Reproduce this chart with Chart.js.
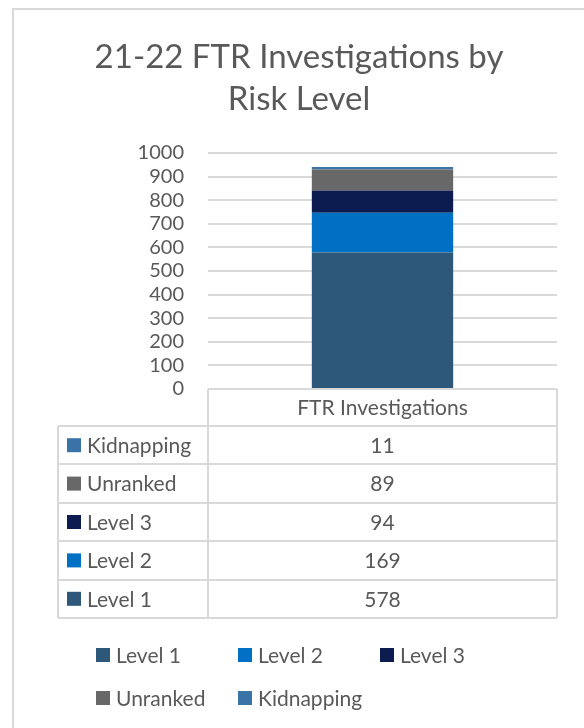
<!DOCTYPE html>
<html>
<head>
<meta charset="utf-8">
<script src="https://cdn.jsdelivr.net/npm/chart.js@4"></script>
<style>
  html, body { margin: 0; padding: 0; background: #fff; }
  #wrap { width: 584px; height: 728px; position: relative; }
</style>
</head>
<body>
<div id="wrap"><canvas id="myChart"></canvas></div>
<script>
// chart data
const titleLines = ["21-22 FTR Investigations by", "Risk Level"];
const categories = ["FTR Investigations"];
const seriesNames = ["Level 1", "Level 2", "Level 3", "Unranked", "Kidnapping"];
const level1 = [578];
const level2 = [169];
const level3 = [94];
const unranked = [89];
const kidnapping = [11];
const yTicks = [0, 100, 200, 300, 400, 500, 600, 700, 800, 900, 1000];

const seriesColors = ["#2D5879", "#0070C4", "#0D1C50", "#686868", "#3A74A6"];
const textColor = "#595959";
const lineColor = "#d9d9d9";
const fontFamily = "Lato, 'Open Sans', sans-serif";

const seriesValues = [level1, level2, level3, unranked, kidnapping];

const datasets = seriesNames.map((name, i) => ({
  label: name,
  data: seriesValues[i],
  backgroundColor: seriesColors[i],
  borderWidth: 0,
  barPercentage: 0.405,
  categoryPercentage: 1,
}));

// title, data table and legend drawn by hand, like Excel does
const extrasPlugin = {
  id: "extras",
  afterDraw(chart) {
    const ctx = chart.ctx;
    const area = chart.chartArea;
    const xScale = chart.scales.x;
    ctx.save();

    // outer frame
    ctx.strokeStyle = lineColor;
    ctx.lineWidth = 2;
    ctx.strokeRect(13, 9, 620, 800);

    // title
    ctx.fillStyle = textColor;
    ctx.font = "33px " + fontFamily;
    ctx.textAlign = "center";
    ctx.textBaseline = "alphabetic";
    ctx.fillText(titleLines[0], 299, 68);
    ctx.fillText(titleLines[1], 299, 110);

    // data table
    const top = area.bottom;
    const headH = 37;
    const rowH = 38.4;
    const leftX = 58;
    const midX = area.left;
    const rightX = area.right;
    const rows = seriesNames.map((n, i) => i).reverse();
    const bottom = top + headH + rowH * rows.length;

    ctx.strokeStyle = lineColor;
    ctx.lineWidth = 2;
    ctx.beginPath();
    ctx.moveTo(midX, top); ctx.lineTo(rightX, top);
    ctx.moveTo(midX, top); ctx.lineTo(midX, bottom);
    ctx.moveTo(rightX, top); ctx.lineTo(rightX, bottom);
    ctx.moveTo(leftX, top + headH); ctx.lineTo(leftX, bottom);
    for (let r = 0; r <= rows.length; r++) {
      const y = Math.round(top + headH + rowH * r);
      ctx.moveTo(leftX, y); ctx.lineTo(rightX, y);
    }
    ctx.stroke();

    ctx.font = "21px " + fontFamily;
    ctx.textBaseline = "middle";
    categories.forEach((cat, c) => {
      const cx = xScale.getPixelForValue(c);
      ctx.textAlign = "center";
      ctx.fillStyle = textColor;
      ctx.fillText(cat, cx, top + headH / 2 + 1);
      rows.forEach((s, r) => {
        const cy = top + headH + rowH * r + rowH / 2 + 1;
        ctx.fillText(String(seriesValues[s][c]), cx, cy);
      });
    });
    rows.forEach((s, r) => {
      const cy = top + headH + rowH * r + rowH / 2;
      ctx.fillStyle = seriesColors[s];
      ctx.fillRect(67, cy - 7, 14, 14);
      ctx.fillStyle = textColor;
      ctx.textAlign = "left";
      ctx.fillText(seriesNames[s], 87, cy + 1);
    });

    // legend below
    seriesNames.forEach((name, i) => {
      const col = i % 3;
      const row = Math.floor(i / 3);
      const x = 96 + col * 142;
      const y = 655 + row * 43;
      ctx.fillStyle = seriesColors[i];
      ctx.fillRect(x, y - 7, 14, 14);
      ctx.fillStyle = textColor;
      ctx.textAlign = "left";
      ctx.fillText(name, x + 20, y + 1);
    });

    ctx.restore();
  },
};

new Chart(document.getElementById("myChart"), {
  type: "bar",
  data: { labels: categories, datasets },
  plugins: [extrasPlugin],
  options: {
    responsive: true,
    maintainAspectRatio: false,
    animation: false,
    layout: { padding: { top: 153, bottom: 339, left: 0, right: 27 } },
    plugins: {
      legend: { display: false },
      title: { display: false },
      tooltip: { enabled: false },
    },
    scales: {
      x: { display: false, stacked: true },
      y: {
        stacked: true,
        min: 0,
        max: 1000,
        afterBuildTicks(scale) {
          scale.ticks = yTicks.map((v) => ({ value: v }));
        },
        afterFit(scale) { scale.width = 208; },
        border: { display: false },
        grid: { color: lineColor, lineWidth: 2, drawTicks: false },
        ticks: {
          autoSkip: false,
          padding: 24,
          color: textColor,
          font: { family: fontFamily, size: 20 },
          callback: (value) => String(value),
        },
      },
    },
  },
});
</script>
</body>
</html>
